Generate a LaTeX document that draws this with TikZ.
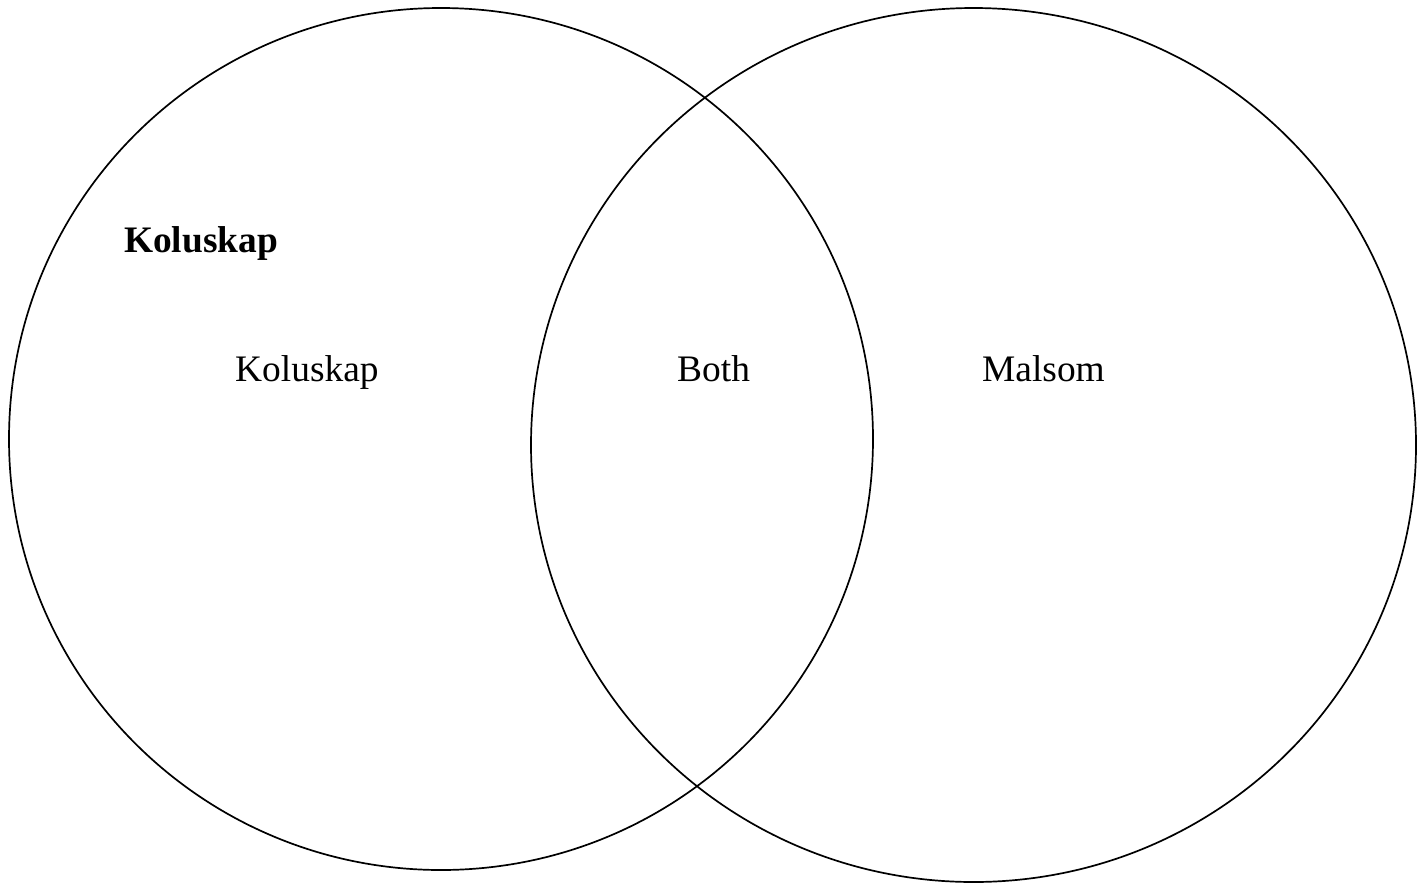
\documentclass[tikz,border=0pt]{standalone}
\usepackage{fontspec}
\setmainfont{Liberation Serif}
\begin{document}
\begin{tikzpicture}[x=1pt,y=-1pt,
  ring/.style={draw=black,line width=1.7pt},
  lbl/.style={inner sep=0pt,anchor=base west,font=\fontsize{37.4}{42}\selectfont}]
\useasboundingbox (0,0) rectangle (1426,884);
\draw[ring] (441,439) ellipse [x radius=432, y radius=431];
\draw[ring] (973.5,445) ellipse [x radius=442.5, y radius=437];
\node[lbl,font=\fontsize{37.4}{42}\selectfont\bfseries] (title) at (124,252) {Koluskap};
\node[lbl] (kol) at (235,381) {Koluskap};
\node[lbl] (both) at (677,381) {Both};
\node[lbl] (mal) at (982,381) {Malsom};
\end{tikzpicture}
\end{document}
